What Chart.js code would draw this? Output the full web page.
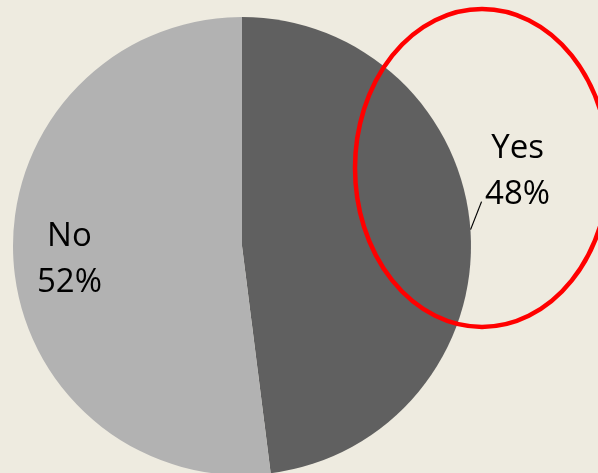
<!DOCTYPE html>
<html>
<head>
<meta charset="utf-8">
<script src="https://cdn.jsdelivr.net/npm/chart.js@4.4.1/dist/chart.umd.min.js"></script>
<style>
  html, body { margin: 0; padding: 0; background: #EEEBE0; overflow: hidden; }
  #wrap { width: 598px; height: 475px; position: relative; }
</style>
</head>
<body>
<div id="wrap"><canvas id="myChart"></canvas></div>
<script>
const labels = ['Yes', 'No'];
const values = [48, 52];
const colors = ['#606060', '#B2B2B2'];

// labels: "No" inside the slice, "Yes" outside with a short leader line
const pieLabels = {
    id: 'pieLabels',
    afterDatasetsDraw(chart) {
        const ctx = chart.ctx;
        const arcs = chart.getDatasetMeta(0).data;
        const total = values.reduce((a, b) => a + b, 0);
        ctx.save();
        ctx.font = '33px "Open Sans", sans-serif';
        ctx.fillStyle = '#000';
        ctx.textAlign = 'center';
        ctx.textBaseline = 'alphabetic';
        arcs.forEach((arc, i) => {
            const p = arc.getProps(['x', 'y', 'startAngle', 'endAngle', 'outerRadius']);
            const mid = (p.startAngle + p.endAngle) / 2;
            const pct = Math.round(values[i] / total * 100) + '%';
            let lx, ly;
            if (i === 0) {
                const ex = p.x + Math.cos(mid) * p.outerRadius;
                const ey = p.y + Math.sin(mid) * p.outerRadius;
                ctx.strokeStyle = '#000';
                ctx.lineWidth = 1.2;
                ctx.beginPath();
                ctx.moveTo(ex, ey - 2);
                ctx.lineTo(ex + 11, ey - 30);
                ctx.stroke();
                lx = ex + 47;
                ly = ey - 63;
            } else {
                lx = p.x + Math.cos(mid) * p.outerRadius * 0.755;
                ly = p.y + Math.sin(mid) * p.outerRadius * 0.755;
            }
            ctx.fillText(labels[i], lx, ly - 11);
            ctx.fillText(pct, lx, ly + 35);
        });
        ctx.restore();
    }
};

// red ellipse drawn over the right side of the pie
const highlight = {
    id: 'highlight',
    afterDraw(chart) {
        const arc = chart.getDatasetMeta(0).data[0];
        const ctx = chart.ctx;
        ctx.save();
        ctx.strokeStyle = '#FF0000';
        ctx.lineWidth = 4.5;
        ctx.beginPath();
        ctx.ellipse(arc.x + 240, arc.y - 78, 127, 159, 0, 0, Math.PI * 2);
        ctx.stroke();
        ctx.restore();
    }
};

new Chart(document.getElementById('myChart'), {
    type: 'pie',
    data: {
        labels: labels,
        datasets: [{
            data: values,
            backgroundColor: colors,
            borderWidth: 0
        }]
    },
    options: {
        responsive: true,
        maintainAspectRatio: false,
        animation: false,
        layout: { padding: { left: 13, right: 127, top: 17, bottom: 0 } },
        plugins: {
            legend: { display: false },
            tooltip: { enabled: false }
        }
    },
    plugins: [pieLabels, highlight]
});
</script>
</body>
</html>
